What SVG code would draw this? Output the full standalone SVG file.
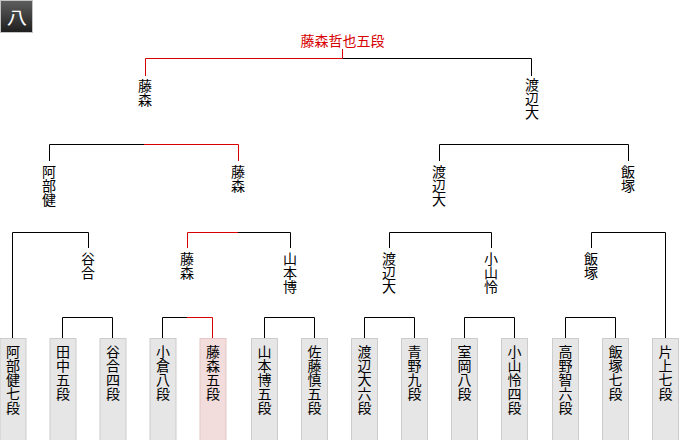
<svg xmlns="http://www.w3.org/2000/svg" width="680" height="440" viewBox="0 0 680 440">
<defs>
<linearGradient id="hdr" x1="0" y1="0" x2="0" y2="1">
<stop offset="0" stop-color="#5e5e5e"/>
<stop offset="1" stop-color="#1e1e1e"/>
</linearGradient>
</defs>
<style>
text{font-family:"Noto Sans CJK JP","Noto Sans CJK SC",sans-serif;font-size:14px;fill:#000}
.v{writing-mode:vertical-rl;text-orientation:upright}
.red{fill:#d80000}
.bk{stroke:#000;stroke-width:1;fill:none}
.rd{stroke:#d80000;stroke-width:1;fill:none}
.leaf{fill:#e6e6e6;stroke:#cccccc;stroke-width:1}
.win{fill:#f2dcdc;stroke:#e6c6c6;stroke-width:1}
</style>
<rect width="680" height="440" fill="#fff"/>
<g id="header">
<rect x="0.5" y="0.5" width="32" height="32" fill="url(#hdr)" stroke="#c4c4c4"/>
<text x="0" y="0" text-anchor="middle" transform="translate(17 23.5) scale(1.2 1)" style="fill:#fff;font-size:17px">八</text>
</g>
<g id="connectors">
<path class="rd" d="M342.5 49V58.5H145.5V76"/>
<path class="bk" d="M342.5 58.5H531.5V76"/>
<path class="bk" d="M49.5 161V144.5H144"/>
<path class="rd" d="M144 144.5H238.5V161"/>
<path class="bk" d="M439.5 161V144.5H628.5V161"/>
<path class="bk" d="M12.5 338V232.5H88.5V248"/>
<path class="rd" d="M187.5 248V232.5H238"/>
<path class="bk" d="M238 232.5H290.5V248"/>
<path class="bk" d="M389.5 248V232.5H491.5V248"/>
<path class="bk" d="M591.5 248V232.5H665.5V338"/>
<path class="bk" d="M62.5 338V317.5H112.5V338"/>
<path class="bk" d="M162.5 338V317.5H187"/>
<path class="rd" d="M187 317.5H212.5V338"/>
<path class="bk" d="M264.5 338V317.5H314.5V338"/>
<path class="bk" d="M364.5 338V317.5H414.5V338"/>
<path class="bk" d="M464.5 338V317.5H514.5V338"/>
<path class="bk" d="M565.5 338V317.5H615.5V338"/>
</g>
<g id="champion"><text class="red" x="342.5" y="46" text-anchor="middle">藤森哲也五段</text></g>
<g id="r1-fujimori"><text class="v" x="145" y="79">藤森</text></g>
<g id="r1-watanabe"><text class="v" x="532" y="78">渡辺大</text></g>
<g id="r2-abe"><text class="v" x="49" y="165">阿部健</text></g>
<g id="r2-fujimori"><text class="v" x="238" y="165">藤森</text></g>
<g id="r2-watanabe"><text class="v" x="439" y="165">渡辺大</text></g>
<g id="r2-iizuka"><text class="v" x="628" y="165">飯塚</text></g>
<g id="r3-tanigo"><text class="v" x="88" y="252">谷合</text></g>
<g id="r3-fujimori"><text class="v" x="187" y="252">藤森</text></g>
<g id="r3-yamamoto"><text class="v" x="290" y="252">山本博</text></g>
<g id="r3-watanabe"><text class="v" x="389" y="252">渡辺大</text></g>
<g id="r3-koyama"><text class="v" x="491" y="252">小山怜</text></g>
<g id="r3-iizuka"><text class="v" x="591" y="252">飯塚</text></g>
<g id="p1"><rect class="leaf" x="0" y="338.5" width="26" height="102"/><text class="v" x="13" y="345">阿部健七段</text></g>
<g id="p2"><rect class="leaf" x="50" y="338.5" width="26" height="102"/><text class="v" x="63" y="345">田中五段</text></g>
<g id="p3"><rect class="leaf" x="100" y="338.5" width="26" height="102"/><text class="v" x="113" y="345">谷合四段</text></g>
<g id="p4"><rect class="leaf" x="150" y="338.5" width="26" height="102"/><text class="v" x="163" y="345">小倉八段</text></g>
<g id="p5"><rect class="win" x="200" y="338.5" width="26" height="102"/><text class="v" x="213" y="345">藤森五段</text></g>
<g id="p6"><rect class="leaf" x="251.5" y="338.5" width="26" height="102"/><text class="v" x="264.5" y="345">山本博五段</text></g>
<g id="p7"><rect class="leaf" x="301.5" y="338.5" width="26" height="102"/><text class="v" x="314.5" y="345">佐藤慎五段</text></g>
<g id="p8"><rect class="leaf" x="351.5" y="338.5" width="26" height="102"/><text class="v" x="364.5" y="345">渡辺大六段</text></g>
<g id="p9"><rect class="leaf" x="401.5" y="338.5" width="26" height="102"/><text class="v" x="414.5" y="345">青野九段</text></g>
<g id="p10"><rect class="leaf" x="451.5" y="338.5" width="26" height="102"/><text class="v" x="464.5" y="345">室岡八段</text></g>
<g id="p11"><rect class="leaf" x="501.5" y="338.5" width="26" height="102"/><text class="v" x="514.5" y="345">小山怜四段</text></g>
<g id="p12"><rect class="leaf" x="552.5" y="338.5" width="26" height="102"/><text class="v" x="565.5" y="345">高野智六段</text></g>
<g id="p13"><rect class="leaf" x="602.5" y="338.5" width="26" height="102"/><text class="v" x="615.5" y="345">飯塚七段</text></g>
<g id="p14"><rect class="leaf" x="652.5" y="338.5" width="26" height="102"/><text class="v" x="665.5" y="345">片上七段</text></g>
</svg>
